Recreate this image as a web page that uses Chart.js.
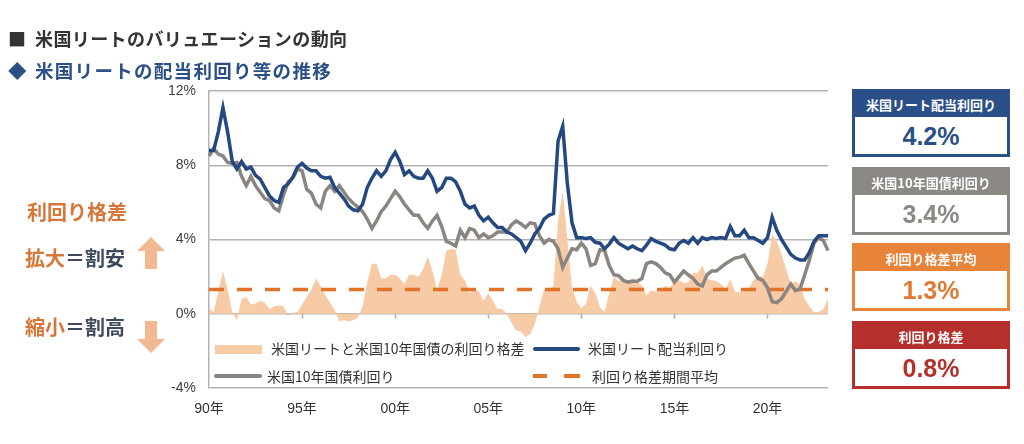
<!DOCTYPE html>
<html lang="ja">
<head>
<meta charset="utf-8">
<script src="https://cdn.jsdelivr.net/npm/chart.js@4.4.1/dist/chart.umd.min.js"></script>
<style>
  html, body { margin:0; padding:0; background:#fff; }
  body { width:1024px; height:444px; position:relative; overflow:hidden;
         font-family:"Noto Sans CJK JP","Noto Sans",sans-serif; }
  #c { position:absolute; left:0; top:0; }
  .abs { position:absolute; white-space:nowrap; }
  .t1 { left:8px; top:25px; font-size:18px; font-weight:bold; color:#333; line-height:26px; letter-spacing:0.4px; }
  .t2 { left:8px; top:57px; font-size:18.5px; font-weight:bold; color:#2b4f87; line-height:26px; letter-spacing:1.3px; }
  .t1 .mk, .t2 .mk { display:inline-block; width:27px; letter-spacing:0; }
  .note { font-size:20px; font-weight:bold; color:#d8763a; line-height:26px; }
  .note .dk { color:#3d4a5c; }
  .box { position:absolute; left:852px; width:152px; border:3px solid; background:#fff; }
  .box .hd { color:#fff; font-size:13px; font-weight:bold; text-align:center; height:25px; line-height:25px; }
  .box .val { text-align:center; font-family:"Liberation Sans",Arial,sans-serif; font-weight:bold;
              font-size:25px; height:37px; line-height:39px; }
  .lg { font-size:14px; color:#333; line-height:18px; }
</style>
</head>
<body>
<canvas id="c" width="1024" height="444"></canvas>

<div class="abs t1"><span class="mk">■</span>米国リートのバリュエーションの動向</div>
<div class="abs t2"><span class="mk">◆</span>米国リートの配当利回り等の推移</div>

<div class="abs note" style="left:27px;top:199px;">利回り格差</div>
<div class="abs note" style="left:25px;top:245px;">拡大<span class="dk">＝割安</span></div>
<div class="abs note" style="left:25px;top:314px;">縮小<span class="dk">＝割高</span></div>
<svg class="abs" style="left:136px;top:236px;" width="30" height="34" viewBox="0 0 30 34">
  <polygon points="15,1 29,15 21,15 21,33 9,33 9,15 1,15" fill="#f2b891"/>
</svg>
<svg class="abs" style="left:136px;top:320px;" width="30" height="34" viewBox="0 0 30 34">
  <polygon points="9,1 21,1 21,19 29,19 15,33 1,19 9,19" fill="#f2b891"/>
</svg>

<!-- legend -->
<div class="abs" style="left:215px;top:345px;width:47px;height:9px;background:#f7cba5;"></div>
<div class="abs lg" style="left:271px;top:339px;">米国リートと米国10年国債の利回り格差</div>
<div class="abs" style="left:533px;top:347px;width:47px;height:4px;background:#24487f;border-radius:2px;"></div>
<div class="abs lg" style="left:588px;top:339px;">米国リート配当利回り</div>
<div class="abs" style="left:214px;top:374px;width:48px;height:4px;background:#8a8580;border-radius:2px;"></div>
<div class="abs lg" style="left:267px;top:367px;">米国10年国債利回り</div>
<div class="abs" style="left:533px;top:374px;width:14px;height:4px;background:#e4732a;"></div>
<div class="abs" style="left:564px;top:374px;width:16px;height:4px;background:#e4732a;"></div>
<div class="abs lg" style="left:592px;top:367px;">利回り格差期間平均</div>

<!-- right boxes -->
<div class="box" style="top:89px;border-color:#2b4f87;">
  <div class="hd" style="background:#2b4f87;">米国リート配当利回り</div>
  <div class="val" style="color:#2b4f87;">4.2%</div>
</div>
<div class="box" style="top:167px;border-color:#8c8985;">
  <div class="hd" style="background:#8c8985;">米国10年国債利回り</div>
  <div class="val" style="color:#8c8985;">3.4%</div>
</div>
<div class="box" style="top:243px;border-color:#e8833a;">
  <div class="hd" style="background:#e8833a;">利回り格差平均</div>
  <div class="val" style="color:#e07a30;">1.3%</div>
</div>
<div class="box" style="top:321px;border-color:#b5302c;">
  <div class="hd" style="background:#b5302c;">利回り格差</div>
  <div class="val" style="color:#b5302c;">0.8%</div>
</div>

<script>
// ---- data (quarterly, 1990Q1 - 2023Q2) ----
const quarters = [];
for (let y = 1990; y <= 2023; y++) {
  for (let q = 1; q <= 4; q++) {
    if (y === 2023 && q > 2) break;
    quarters.push(y + 'Q' + q);
  }
}
const xTickLabels = ['90年', '95年', '00年', '05年', '10年', '15年', '20年'];

const reitYield = [
  8.8, 8.8, 9.8, 11.1,
  9.8, 8.2, 7.8, 8.2,
  7.8, 7.9, 7.45, 7.25,
  6.8, 6.35, 6.1, 6.0,
  6.8, 7.0, 7.35, 7.9,
  8.1, 7.85, 7.7, 7.7,
  7.4, 7.3, 7.35, 6.8,
  6.5, 6.2, 5.8, 5.6,
  5.55, 5.9, 6.8, 7.3,
  7.7, 7.4, 7.7, 8.3,
  8.7, 8.2, 7.5, 7.7,
  7.4, 7.3, 7.3, 7.7,
  7.3, 6.6, 6.8, 7.3,
  7.3, 7.1, 6.6, 5.9,
  5.7, 5.8, 5.3, 5.0,
  5.2, 4.9, 4.65, 4.65,
  4.4, 4.3, 4.1, 3.9,
  3.4, 3.8, 4.3, 4.6,
  5.1, 5.3, 5.4, 9.3,
  10.1, 7.0, 4.9, 4.1,
  4.1, 4.05, 4.1, 3.85,
  3.8, 3.5, 3.75, 4.1,
  3.8, 3.65, 3.5, 3.65,
  3.5, 3.4, 3.7, 4.05,
  3.9, 3.8, 3.7, 3.5,
  3.45, 3.8, 3.95, 3.8,
  4.1, 3.8, 4.1, 4.0,
  4.1, 4.05, 4.1, 4.05,
  4.7, 4.2, 4.2, 4.5,
  4.1, 4.1, 3.95, 3.8,
  4.1, 5.2, 4.5, 4.0,
  3.6, 3.2, 3.0, 2.9,
  2.9, 3.3, 3.9, 4.2,
  4.2, 4.2
];

const treasuryYield = [
  8.5, 8.9, 8.6, 8.5,
  8.15, 8.1, 8.15, 7.4,
  6.9, 7.4, 6.9, 6.55,
  6.2, 6.1, 5.7, 5.55,
  6.4, 7.1, 7.3, 7.8,
  7.7, 6.7, 6.5, 5.9,
  5.7, 6.6, 6.9, 6.6,
  6.9, 6.55, 6.2, 5.95,
  5.75, 5.5, 5.1, 4.6,
  5.0, 5.5, 5.8, 6.2,
  6.6, 6.3, 5.9, 5.6,
  5.3, 5.3, 4.9, 4.6,
  5.0, 5.3, 4.7, 3.9,
  3.8, 3.65, 4.5, 4.1,
  4.6, 4.5, 4.1, 4.3,
  4.1, 4.2, 4.4, 4.4,
  4.4, 4.8, 5.0, 4.85,
  4.65, 4.9, 4.85, 4.2,
  3.8, 4.0, 3.9, 3.5,
  2.5, 3.0, 3.5, 3.45,
  3.8, 3.5, 2.6, 2.7,
  3.45, 3.4, 2.6, 2.1,
  2.05, 1.8, 1.7, 1.75,
  1.75, 1.9, 2.7, 2.8,
  2.7, 2.5, 2.2, 2.1,
  1.7, 2.0, 2.3, 2.1,
  1.9, 1.6, 1.5, 2.1,
  2.3, 2.3, 2.5, 2.7,
  2.85, 3.0, 3.05, 3.15,
  2.7, 2.3, 1.9, 1.8,
  1.4, 0.65, 0.6, 0.8,
  1.2, 1.6, 1.25, 1.35,
  2.1, 2.9, 3.8, 4.1,
  3.95, 3.4
];

const yieldSpread = [
  0.3, 0.1, 1.2, 2.3,
  1.3, 0.1, -0.35, 0.8,
  0.9, 0.5, 0.55, 0.7,
  0.6, 0.25, 0.4, 0.45,
  0.4, -0.1, 0.05, 0.1,
  0.5, 0.9, 1.3, 1.9,
  1.5, 1.0, 0.6, 0.2,
  -0.4, -0.35, -0.4, -0.35,
  -0.2, 0.4, 1.7, 2.7,
  2.7, 1.9, 1.9, 2.1,
  2.1, 1.9, 1.6, 2.1,
  2.1, 2.0, 2.4, 3.1,
  2.3, 1.3, 2.1, 3.4,
  3.5, 3.45, 2.1, 1.8,
  1.1, 1.3, 1.2, 0.7,
  1.1, 0.7, 0.25, 0.25,
  0.0, -0.5, -0.9, -0.95,
  -1.25, -1.1, -0.55, 0.4,
  1.3, 1.3, 1.5, 5.0,
  6.6, 4.0, 1.4, 0.65,
  0.3, 0.55, 1.5, 1.15,
  0.35, 0.1, 1.15, 2.0,
  1.75, 1.85, 1.8, 1.9,
  1.75, 1.5, 1.0, 1.25,
  1.2, 1.3, 1.5, 1.4,
  1.75, 1.8, 1.65, 1.7,
  2.2, 2.2, 2.6, 1.9,
  1.8, 1.75, 1.6, 1.35,
  1.85, 1.2, 1.15, 1.35,
  1.4, 1.8, 2.05, 2.0,
  2.7, 4.3, 3.9, 3.2,
  2.4, 1.6, 1.75, 1.55,
  0.8, 0.4, 0.1, 0.1,
  0.25, 0.8
];

const spreadAverage = 1.3;
const yTicks = [-4, 0, 4, 8, 12];

// ---- chart ----
const zeroTicks = {
  id: 'zeroTicks',
  afterDatasetsDraw(chart) {
    const x = chart.scales.x, y = chart.scales.y, ctx = chart.ctx;
    const y0 = y.getPixelForValue(0);
    ctx.save();
    ctx.strokeStyle = '#b3b3b3';
    ctx.lineWidth = 1.5;
    for (let i = 20; i < quarters.length; i += 20) {
      const px = Math.round(x.getPixelForValue(i)) + 0.5;
      ctx.beginPath(); ctx.moveTo(px, y0); ctx.lineTo(px, y0 + 5); ctx.stroke();
    }
    ctx.restore();
  }
};

new Chart(document.getElementById('c'), {
  type: 'line',
  data: {
    labels: quarters,
    datasets: [
      { label: '米国リート配当利回り', data: reitYield, borderColor: '#24487f', borderWidth: 3.5,
        pointRadius: 0, tension: 0, fill: false, order: 1 },
      { label: '米国10年国債利回り', data: treasuryYield, borderColor: '#8a8580', borderWidth: 3.5,
        pointRadius: 0, tension: 0, fill: false, order: 2 },
      { label: '利回り格差期間平均',
        data: [{ x: quarters[0], y: spreadAverage }, { x: quarters[quarters.length - 1], y: spreadAverage }],
        borderColor: '#e4732a', borderWidth: 3.5, borderDash: [15, 13], pointRadius: 0, fill: false, order: 3 },
      { label: '米国リートと米国10年国債の利回り格差', data: yieldSpread, borderWidth: 0,
        borderColor: 'rgba(0,0,0,0)', backgroundColor: '#f7cba5', pointRadius: 0, tension: 0,
        fill: 'origin', order: 4 }
    ]
  },
  options: {
    responsive: false,
    animation: false,
    layout: { padding: { left: 169, right: 196, top: 91, bottom: 26 } },
    plugins: { legend: { display: false }, tooltip: { enabled: false } },
    scales: {
      x: {
        type: 'category',
        offset: false,
        grid: { display: false, drawTicks: false },
        border: { display: false },
        afterFit(s) { s.height = 30; },
        ticks: {
          autoSkip: false, maxRotation: 0, padding: 13,
          color: '#333', font: { size: 14, family: '"Liberation Sans","Noto Sans CJK JP",sans-serif' },
          callback(v, i) { return i % 20 === 0 ? xTickLabels[i / 20] : ''; }
        }
      },
      y: {
        min: yTicks[0], max: yTicks[yTicks.length - 1],
        afterFit(s) { s.width = 40; },
        afterBuildTicks(s) { s.ticks = yTicks.map(v => ({ value: v })); },
        grid: { color: '#b3b3b3', lineWidth: 1.5, drawTicks: false },
        border: { display: true, color: '#b3b3b3', width: 1.5 },
        ticks: {
          padding: 13, color: '#404040',
          font: { size: 14, family: '"Liberation Sans",Arial,sans-serif' },
          callback(v) { return v + '%'; }
        }
      }
    }
  },
  plugins: [zeroTicks]
});
</script>
</body>
</html>
